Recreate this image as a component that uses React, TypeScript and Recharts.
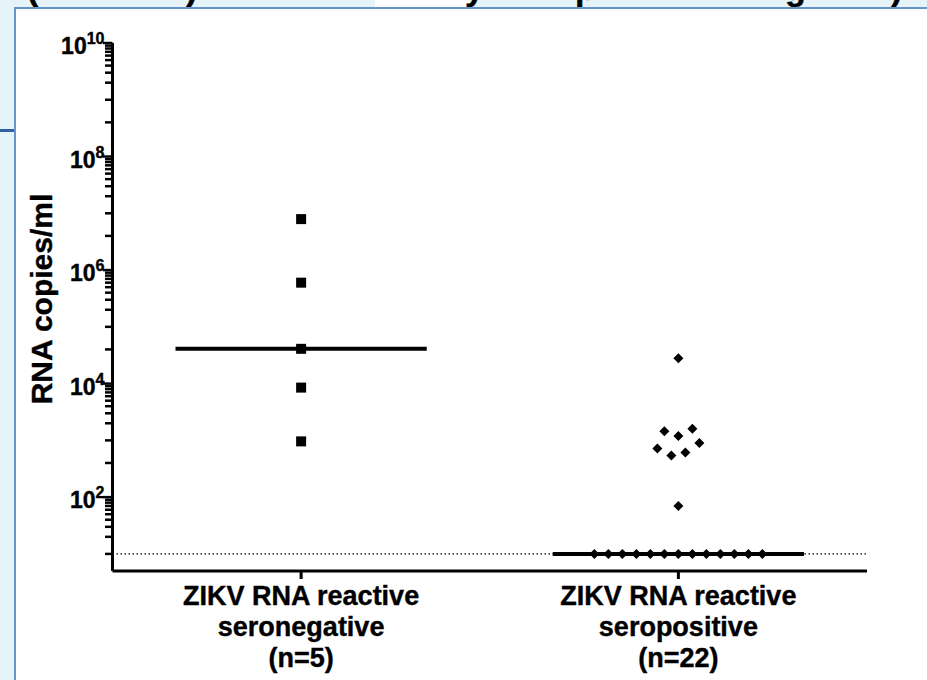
import React from "react";
import { ScatterChart, Scatter, XAxis, YAxis, ReferenceLine } from "recharts";

// Viral load (RNA copies/ml) per donor, one array per group
const SERONEGATIVE = [7.9e6, 6.0e5, 4.1e4, 8.5e3, 960];
const SEROPOSITIVE = [
  28000, 1600, 1450, 1200, 900, 720, 610, 540, 70,
  10, 10, 10, 10, 10, 10, 10, 10, 10, 10, 10, 10, 10,
];
const GROUP_LABELS = [
  ["ZIKV RNA reactive", "seronegative", "(n=5)"],
  ["ZIKV RNA reactive", "seropositive", "(n=22)"],
];
const LIMIT_OF_DETECTION = 10;
const Y_DOMAIN: [number, number] = [5, 1e10];
const MAJOR_EXPONENTS = [2, 4, 6, 8, 10];

const FONT = '"Liberation Sans", Arial, Helvetica, sans-serif';
const COLUMN_STEP = 0.0371; // horizontal spacing of tied points, in category units
const ROW_GAP = 0.23; // log10 distance that starts a new row in a column
const MEDIAN_HALF_WIDTH = 0.333;

// heavy black text used on every axis
const textStyle = (size: number) => ({
  fontFamily: FONT,
  fontWeight: 700,
  fontSize: size,
  stroke: "#000",
  strokeWidth: 0.4,
});

// major decades every 2, minor ticks 1..9 x 10^(k+1) plus one in the lower decade
const buildTicks = () => {
  const ticks: number[] = [];
  for (let k = 0; k <= 8; k += 2) {
    ticks.push(4 * Math.pow(10, k));
    for (let j = 1; j <= 9; j++) ticks.push(j * Math.pow(10, k + 1));
  }
  MAJOR_EXPONENTS.forEach((e) => ticks.push(Math.pow(10, e)));
  return Array.from(new Set(ticks))
    .filter((t) => t >= Y_DOMAIN[0] && t <= Y_DOMAIN[1])
    .sort((a, b) => a - b);
};
const Y_TICKS = buildTicks();

const median = (values: number[]) => {
  const s = [...values].sort((a, b) => a - b);
  const m = Math.floor(s.length / 2);
  return s.length % 2 ? s[m] : (s[m - 1] + s[m]) / 2;
};

// scatter-dot-plot layout: group close values into rows, spread each row sideways
const spreadColumn = (values: number[], center: number) => {
  const sorted = [...values].sort((a, b) => b - a);
  const rows: number[][] = [];
  sorted.forEach((v) => {
    const row = rows[rows.length - 1];
    if (row && Math.log10(row[0]) - Math.log10(v) < ROW_GAP) row.push(v);
    else rows.push([v]);
  });
  const points: { x: number; y: number }[] = [];
  rows.forEach((row) => {
    const n = row.length;
    const slots = Array.from({ length: n }, (_, i) => i - (n - 1) / 2).sort(
      (a, b) => Math.abs(b) - Math.abs(a) || b - a
    );
    row.forEach((v, i) => points.push({ x: center + slots[i] * COLUMN_STEP, y: v }));
  });
  return points;
};

const negPoints = spreadColumn(SERONEGATIVE, 0.5);
const posPoints = spreadColumn(SEROPOSITIVE, 1.5);
const negMedian = median(SERONEGATIVE);
const posMedian = median(SEROPOSITIVE);

const Square = (props: any) => (
  <rect x={props.cx - 5} y={props.cy - 5} width={10} height={10} fill="#000" />
);

const Diamond = (props: any) => {
  const { cx, cy } = props;
  const r = 5;
  return <path d={`M${cx},${cy - r}L${cx + r},${cy}L${cx},${cy + r}L${cx - r},${cy}Z`} fill="#000" />;
};

const YTick = (props: any) => {
  const { x, y, payload } = props;
  const lg = Math.log10(payload.value);
  const exp = Math.round(lg);
  const isMajor = Math.abs(lg - exp) < 1e-9 && exp % 2 === 0;
  const len = isMajor ? 8 : 6;
  return (
    <g>
      <line x1={x - 1.5 - len} x2={x} y1={y} y2={y} stroke="#000" strokeWidth={2.5} />
      {isMajor && (
        <text x={x - 8} y={y + 11} textAnchor="end" style={textStyle(23)} fill="#000">
          10
          <tspan style={{ fontSize: 16 }} dy={-10}>
            {exp}
          </tspan>
        </text>
      )}
    </g>
  );
};

const XTick = (props: any) => {
  const { x, y, payload } = props;
  const lines = GROUP_LABELS[Math.floor(payload.value)] || [];
  return (
    <g>
      <line x1={x} x2={x} y1={y} y2={y + 8} stroke="#000" strokeWidth={3} />
      {lines.map((line, i) => (
        <text
          key={i}
          x={x}
          y={y + 34 + i * 31}
          textAnchor="middle"
          style={textStyle(27)}
          fill="#000"
        >
          {line}
        </text>
      ))}
    </g>
  );
};

const YTitle = (props: any) => {
  const { viewBox } = props;
  const cx = 52;
  const cy = viewBox.y + viewBox.height / 2 - 8;
  return (
    <text
      x={cx}
      y={cy}
      transform={`rotate(-90, ${cx}, ${cy})`}
      textAnchor="middle"
      style={textStyle(30)}
      fill="#000"
    >
      RNA copies/ml
    </text>
  );
};

// slide title sits above the frame, only its descenders show
const TITLE_BITS = [
  { ch: "(", x: 27 },
  { ch: ")", x: 186 },
  { ch: "y", x: 465 },
  { ch: "p", x: 575 },
  { ch: "g", x: 785 },
  { ch: ")", x: 891 },
];

export default function App() {
  return (
    <div
      style={{
        position: "absolute",
        left: 0,
        top: 0,
        width: 927,
        height: 680,
        overflow: "hidden",
        background: "#e6f4f9",
      }}
    >
      <div
        style={{
          position: "absolute",
          left: 375,
          top: -10,
          width: 95,
          height: 20,
          background: "#fff",
          borderRadius: "40% 10% 0 0",
        }}
      />
      <svg width={927} height={8} style={{ position: "absolute", left: 0, top: 0 }}>
        {TITLE_BITS.map((b, i) => (
          <text key={i} x={b.x} y={0} style={textStyle(34)} fill="#000">
            {b.ch}
          </text>
        ))}
      </svg>
      <div
        style={{
          position: "absolute",
          left: 0,
          top: 129,
          width: 14,
          height: 3,
          background: "#2f62a0",
        }}
      />
      <div
        style={{
          position: "absolute",
          left: 14,
          top: 7,
          right: 0,
          bottom: 0,
          background: "#fff",
          borderTop: "2px solid #6494ca",
          borderLeft: "2px solid #6494ca",
        }}
      />
      <div style={{ position: "absolute", left: 0, top: 0 }}>
        <ScatterChart width={927} height={680} margin={{ top: 43, right: 60, bottom: 9, left: 0 }}>
          <XAxis
            type="number"
            dataKey="x"
            domain={[0, 2]}
            ticks={[0.5, 1.5]}
            interval={0}
            height={100}
            tickSize={0}
            tickMargin={0}
            tickLine={false}
            tick={<XTick />}
            axisLine={{ stroke: "#000", strokeWidth: 3 }}
          />
          <YAxis
            type="number"
            dataKey="y"
            scale="log"
            domain={Y_DOMAIN}
            allowDataOverflow
            ticks={Y_TICKS}
            interval={0}
            width={112.5}
            tickSize={0}
            tickMargin={0}
            tickLine={false}
            tick={<YTick />}
            axisLine={{ stroke: "#000", strokeWidth: 3 }}
            label={{ value: "RNA copies/ml", content: YTitle }}
          />
          <ReferenceLine
            y={LIMIT_OF_DETECTION}
            stroke="#000"
            strokeWidth={1.3}
            strokeDasharray="1.5 2.5"
          />
          <ReferenceLine
            segment={[
              { x: 0.5 - MEDIAN_HALF_WIDTH, y: negMedian },
              { x: 0.5 + MEDIAN_HALF_WIDTH, y: negMedian },
            ]}
            stroke="#000"
            strokeWidth={4}
          />
          <ReferenceLine
            segment={[
              { x: 1.5 - MEDIAN_HALF_WIDTH, y: posMedian },
              { x: 1.5 + MEDIAN_HALF_WIDTH, y: posMedian },
            ]}
            stroke="#000"
            strokeWidth={4}
          />
          <Scatter data={negPoints} shape={Square} isAnimationActive={false} />
          <Scatter data={posPoints} shape={Diamond} isAnimationActive={false} />
        </ScatterChart>
      </div>
    </div>
  );
}
